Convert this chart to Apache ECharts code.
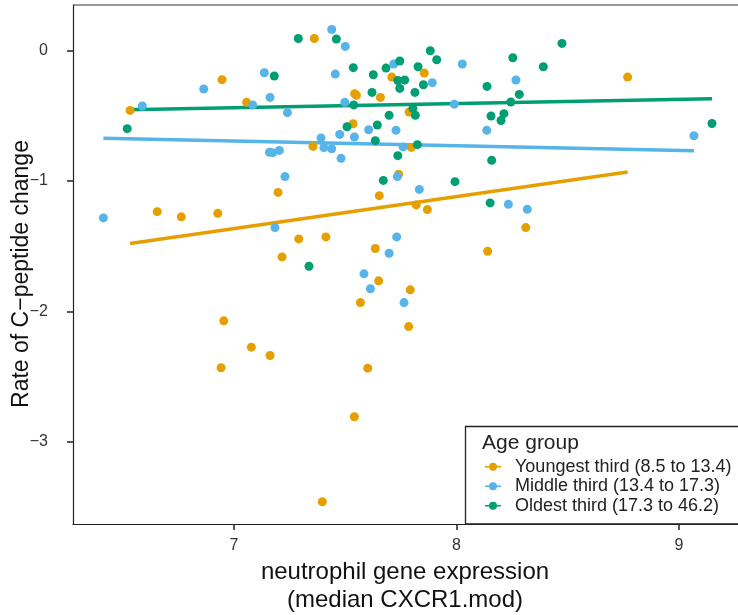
<!DOCTYPE html>
<html>
<head>
<meta charset="utf-8">
<script src="https://cdn.jsdelivr.net/npm/echarts@6/dist/echarts.min.js"></script>
<style>
  html, body { margin: 0; padding: 0; background: #fff; }
  #chart { width: 738px; height: 615px; }
</style>
</head>
<body>
<div id="chart"></div>
<script>
// group names
const groupNames = ['Youngest third (8.5 to 13.4)', 'Middle third (13.4 to 17.3)', 'Oldest third (17.3 to 46.2)']
const groupColors = ['#E69F00', '#56B4E9', '#009E73']

// [neutrophil expression, rate of C-peptide change]
const youngest = [
  [6.533, -0.458], [6.946, -0.222], [7.057, -0.396], [7.361, 0.094], [7.855, -0.171],
  [7.709, -0.202], [7.542, -0.330], [7.550, -0.343], [7.658, -0.358], [7.787, -0.470],
  [7.535, -0.560], [7.355, -0.734], [7.797, -0.742], [7.740, -0.947], [8.769, -0.202],
  [6.655, -1.235], [6.763, -1.275], [6.927, -1.248], [6.954, -2.073], [7.078, -2.275],
  [7.198, -1.087], [7.653, -1.112], [7.819, -1.183], [7.869, -1.219], [7.291, -1.444],
  [7.413, -1.429], [7.216, -1.582], [7.635, -1.518], [7.650, -1.766], [7.792, -1.835],
  [7.568, -1.933], [7.785, -2.117], [8.311, -1.357], [8.140, -1.539], [7.162, -2.339],
  [6.942, -2.433], [7.601, -2.436], [7.541, -2.809], [7.397, -3.461]
]
const middle = [
  [6.588, -0.424], [6.864, -0.294], [7.084, -0.416], [7.136, -0.169], [7.162, -0.358],
  [7.159, -0.780], [7.240, -0.475], [7.439, 0.163], [7.500, 0.033], [7.455, -0.179],
  [7.718, -0.102], [7.891, -0.245], [7.498, -0.396], [7.990, -0.410], [8.026, -0.102],
  [7.605, -0.606], [7.728, -0.611], [7.391, -0.669], [7.475, -0.642], [7.541, -0.662],
  [7.404, -0.744], [7.439, -0.752], [7.174, -0.782], [7.204, -0.765], [7.481, -0.826],
  [7.760, -0.738], [7.229, -0.966], [7.734, -0.966], [8.267, -0.225], [8.136, -0.611],
  [9.067, -0.652], [6.413, -1.283], [7.833, -1.064], [7.184, -1.357], [7.731, -1.429],
  [7.697, -1.554], [7.584, -1.712], [7.613, -1.827], [7.764, -1.933], [8.233, -1.179],
  [8.318, -1.217]
]
const oldest = [
  [6.520, -0.598], [7.181, -0.194], [7.289, 0.094], [7.460, 0.090], [7.536, -0.130],
  [7.626, -0.184], [7.683, -0.133], [7.745, -0.079], [7.827, -0.123], [7.882, 0.000],
  [7.911, -0.069], [7.851, -0.261], [7.813, -0.320], [7.736, -0.228], [7.767, -0.225],
  [7.745, -0.289], [7.620, -0.320], [7.538, -0.416], [7.804, -0.442], [7.815, -0.496],
  [7.697, -0.496], [7.508, -0.583], [7.644, -0.570], [7.635, -0.690], [7.824, -0.721],
  [7.736, -0.805], [7.671, -0.995], [7.993, -1.005], [8.253, -0.054], [8.474, 0.056],
  [8.390, -0.123], [8.137, -0.274], [8.282, -0.335], [8.244, -0.393], [8.155, -0.501],
  [8.213, -0.483], [8.200, -0.535], [9.148, -0.558], [8.158, -0.841], [8.151, -1.168],
  [7.337, -1.654]
]

// linear fit end points per group
const youngestFit = [[6.533, -1.480], [8.769, -0.930]]
const middleFit = [[6.413, -0.672], [9.067, -0.767]]
const oldestFit = [[6.520, -0.452], [9.148, -0.368]]

const xTicks = [7, 8, 9]
const yTicks = [0, -1, -2, -3]

const chartInstance = echarts.init(document.getElementById('chart'))

const points = [youngest, middle, oldest]
const fits = [youngestFit, middleFit, oldestFit]
const font = 'Liberation Sans, Arial, Helvetica, sans-serif'
const keyIcon = 'path://M0 3.3h5v1.4h-5z M11 3.3h5v1.4h-5z M12 4a4 4 0 1 1 -8 0a4 4 0 1 1 8 0z'

const series = []
fits.forEach((d, i) => {
  series.push({
    name: groupNames[i],
    type: 'line',
    data: d,
    showSymbol: false,
    silent: true,
    z: 1,
    lineStyle: { color: groupColors[i], width: 3.5 },
    itemStyle: { color: groupColors[i] }
  })
})
points.forEach((d, i) => {
  series.push({
    name: groupNames[i],
    type: 'scatter',
    data: d,
    symbolSize: 9,
    z: 2,
    itemStyle: { color: groupColors[i], opacity: 1 }
  })
})

const option = {
  animation: false,
  backgroundColor: '#fff',
  textStyle: { fontFamily: font },
  grid: { left: 73, top: 5, right: 0, bottom: 615 - 524 },
  xAxis: {
    type: 'value',
    min: 6.2764,
    max: 9.265,
    splitLine: { show: false },
    axisLine: { onZero: false, lineStyle: { color: '#222', width: 1.2 } },
    axisTick: { show: true, customValues: xTicks, length: 6, lineStyle: { color: '#222', width: 1.5 } },
    axisLabel: { customValues: xTicks, fontSize: 16, color: '#333', margin: 14 }
  },
  yAxis: {
    type: 'value',
    min: -3.632,
    max: 0.351,
    splitLine: { show: false },
    axisLine: { onZero: false, lineStyle: { color: '#222', width: 1.2 } },
    axisTick: { show: true, customValues: yTicks, length: 6, lineStyle: { color: '#222', width: 1.5 } },
    axisLabel: {
      customValues: yTicks, fontSize: 16, color: '#333', margin: 25,
      formatter: v => String(v).replace('-', '\u2212')
    }
  },
  legend: {
    orient: 'vertical',
    left: 485,
    top: 457,
    padding: 0,
    z: 20,
    data: groupNames.map((n, i) => ({ name: n, icon: keyIcon, itemStyle: { color: groupColors[i] } })),
    itemWidth: 16,
    itemHeight: 8,
    itemGap: 0,
    selectedMode: false,
    textStyle: { fontSize: 18, color: '#222', fontFamily: font, lineHeight: 19.5, padding: [0, 0, 0, 9] }
  },
  graphic: [
    { type: 'line', z: 5, shape: { x1: 73, y1: 5, x2: 738, y2: 5 }, style: { stroke: '#333', lineWidth: 1.2 } },
    {
      type: 'rect', z: 10, shape: { x: 465.5, y: 426.5, width: 290, height: 97.5 },
      style: { fill: '#fff', stroke: '#222', lineWidth: 1.3 }
    },
    {
      type: 'text', z: 11, x: 482, y: 443,
      style: { text: 'Age group', fontSize: 21, fill: '#222', fontFamily: font, verticalAlign: 'middle' }
    },
    {
      type: 'text', z: 11, x: 405, y: 572,
      style: { text: 'neutrophil gene expression', fontSize: 24, fill: '#111', fontFamily: font, align: 'center', verticalAlign: 'middle' }
    },
    {
      type: 'text', z: 11, x: 405, y: 600,
      style: { text: '(median CXCR1.mod)', fontSize: 24, fill: '#111', fontFamily: font, align: 'center', verticalAlign: 'middle' }
    },
    {
      type: 'text', z: 11, x: 22, y: 274, rotation: Math.PI / 2,
      style: { text: 'Rate of C\u2212peptide change', fontSize: 23, fill: '#111', fontFamily: font, align: 'center', verticalAlign: 'middle' }
    }
  ],
  series: series
}

chartInstance.setOption(option)
</script>
</body>
</html>
